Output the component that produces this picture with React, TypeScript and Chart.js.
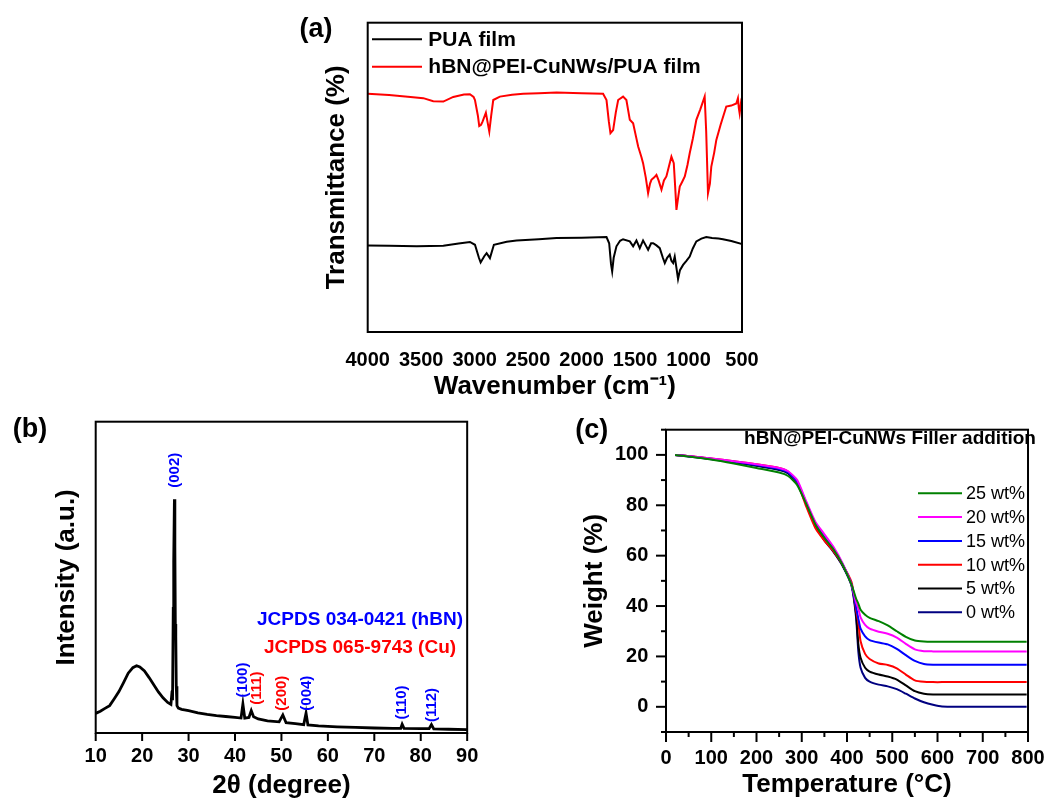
import React, { useEffect, useRef } from 'react';
import { Chart, registerables } from 'chart.js';

Chart.register(...registerables);

const FONT = "Arial, 'Liberation Sans', Helvetica, sans-serif";
Chart.defaults.font.family = FONT;

// ---------------- Panel (a): FTIR ----------------
const ftirTickValues = [500, 1000, 1500, 2000, 2500, 3000, 3500, 4000];
const ftirSeriesLabels = ['PUA film', 'hBN@PEI-CuNWs/PUA film'];

const puaWavenumber = [4000, 3800, 3542, 3293, 3150, 3044, 2997, 2960, 2944, 2910, 2888, 2857, 2820, 2700, 2608, 2400, 2234, 2000, 1767, 1742, 1725, 1714, 1700, 1674, 1640, 1612, 1549, 1518, 1487, 1456, 1425, 1400, 1378, 1350, 1331, 1300, 1269, 1240, 1222, 1200, 1176, 1160, 1144, 1129, 1110, 1098, 1080, 1051, 1020, 989, 960, 927, 880, 834, 780, 720, 678, 600, 507, 500];
const puaTransmittance = [28.0, 27.9, 27.7, 27.9, 28.6, 29.1, 28.2, 24.0, 22.5, 24.5, 25.5, 23.9, 28.2, 29.2, 29.6, 30.0, 30.4, 30.5, 30.7, 28.7, 22.0, 19.6, 24.0, 27.7, 29.5, 30.0, 29.3, 27.7, 29.6, 27.1, 29.6, 28.0, 26.6, 28.7, 28.7, 28.0, 27.1, 24.0, 22.3, 24.0, 25.0, 23.0, 22.3, 24.4, 20.0, 17.1, 20.0, 21.7, 23.0, 24.4, 27.0, 29.3, 30.2, 30.7, 30.4, 30.2, 30.0, 29.4, 28.5, 28.3];

const compWavenumber = [4000, 3800, 3600, 3480, 3387, 3293, 3200, 3100, 3044, 3010, 2997, 2970, 2957, 2940, 2926, 2895, 2880, 2863, 2845, 2826, 2764, 2650, 2546, 2400, 2234, 2000, 1799, 1767, 1745, 1730, 1705, 1680, 1658, 1612, 1581, 1549, 1518, 1490, 1471, 1440, 1425, 1400, 1378, 1360, 1347, 1320, 1300, 1280, 1253, 1230, 1207, 1180, 1160, 1138, 1125, 1113, 1095, 1082, 1060, 1035, 1010, 989, 960, 927, 890, 849, 835, 818, 800, 787, 760, 740, 700, 647, 600, 553, 538, 530, 522, 510, 500];
const compTransmittance = [77.0, 76.6, 76.0, 75.6, 74.6, 74.5, 76.0, 76.8, 76.9, 76.0, 75.0, 70.0, 66.6, 67.0, 68.0, 70.9, 68.0, 64.8, 70.0, 75.0, 76.1, 76.7, 77.0, 77.2, 77.4, 77.2, 77.0, 75.0, 68.0, 64.3, 65.3, 71.0, 75.0, 76.1, 75.0, 68.6, 67.5, 63.0, 60.0, 56.5, 54.6, 50.0, 44.9, 48.0, 49.2, 50.0, 50.8, 49.0, 46.0, 49.0, 50.3, 54.0, 56.7, 54.6, 47.0, 39.5, 44.0, 47.0, 48.5, 50.3, 54.0, 57.8, 62.5, 68.6, 72.0, 76.1, 65.0, 44.9, 48.0, 53.5, 58.0, 62.1, 67.0, 72.9, 73.2, 73.9, 75.6, 72.5, 70.7, 74.0, 72.5];

// ---------------- Panel (b): XRD ----------------
const xrdTickValues = [10, 20, 30, 40, 50, 60, 70, 80, 90];
const xrdAngle = [10, 11, 12, 13, 14, 15, 16, 17, 18, 18.8, 19.5, 20.5, 21.5, 22.5, 23.5, 24.5, 25.5, 26.2, 26.45, 26.55, 26.7, 26.8, 26.95, 27.05, 27.15, 27.25, 27.35, 27.5, 27.8, 28.5, 30, 32, 34, 36, 38, 40, 41.3, 41.7, 42.1, 43.0, 43.5, 44.0, 45, 47, 49.5, 50.3, 51.0, 53, 54.8, 55.3, 55.7, 58, 62, 66, 70, 74, 75.7, 76.0, 76.4, 80, 81.8, 82.3, 82.8, 86, 90];
const xrdIntensity = [6.3, 7.0, 7.9, 8.8, 11.0, 13.3, 16.2, 19.2, 21.0, 21.6, 21.2, 19.9, 17.8, 15.5, 13.2, 11.3, 9.8, 9.2, 13.5, 10.5, 40, 55, 75.1, 60, 35, 31, 15, 8.8, 8.0, 7.6, 7.2, 6.5, 6.0, 5.6, 5.3, 5.0, 4.8, 9.3, 4.8, 5.0, 7.2, 5.2, 4.5, 3.9, 3.6, 5.8, 3.3, 3.0, 2.7, 6.4, 2.6, 2.3, 2.0, 1.8, 1.6, 1.5, 1.5, 2.8, 1.5, 1.4, 1.4, 2.7, 1.3, 1.2, 1.1];
const peakNames = ['(002)', '(100)', '(111)', '(200)', '(004)', '(110)', '(112)'];
const peakAngles = [27.0, 41.7, 44.8, 50.1, 55.4, 75.9, 82.5];
const peakLabelLevels = [84.4, 17.0, 14.4, 12.8, 12.8, 9.8, 9.0];
const peakPhases = ['hBN', 'hBN', 'Cu', 'Cu', 'hBN', 'hBN', 'hBN'];
const jcpdsCards = ['JCPDS 034-0421 (hBN)', 'JCPDS 065-9743 (Cu)'];

// ---------------- Panel (c): TGA ----------------
const tgaTempTickValues = [0, 50, 100, 150, 200, 250, 300, 350, 400, 450, 500, 550, 600, 650, 700, 750, 800];
const tgaWeightTickValues = [-10, 0, 10, 20, 30, 40, 50, 60, 70, 80, 90, 100, 110];
const tgaTemp = [20, 50, 100, 150, 200, 250, 270, 290, 310, 330, 350, 370, 390, 410, 420, 425, 430, 440, 450, 470, 490, 510, 530, 550, 570, 590, 610, 650, 700, 797];
const tga25 = [100, 99.4, 98.2, 96.6, 94.8, 93.0, 91.6, 88.0, 80.5, 72.5, 67.0, 62.5, 56.5, 48.5, 43.0, 41.0, 38.5, 36.5, 35.3, 34.0, 32.3, 30.0, 27.8, 26.3, 25.9, 25.8, 25.8, 25.8, 25.8, 25.8];
const tga20 = [100, 99.6, 98.6, 97.5, 96.3, 94.8, 93.5, 90.0, 81.5, 73.5, 68.5, 63.5, 57.0, 48.5, 41.5, 39.0, 35.5, 32.5, 31.0, 29.8, 29.0, 27.5, 25.0, 22.8, 22.1, 22.0, 22.0, 22.0, 22.0, 22.0];
const tga15 = [100, 99.5, 98.5, 97.3, 96.0, 94.4, 93.0, 89.3, 81.0, 73.0, 67.5, 62.8, 56.8, 48.5, 39.5, 35.0, 31.0, 28.0, 26.5, 25.5, 24.8, 23.0, 20.5, 18.2, 17.0, 16.7, 16.7, 16.7, 16.7, 16.7];
const tga10 = [100, 99.6, 98.6, 97.5, 96.3, 94.8, 93.3, 89.0, 79.5, 71.0, 66.0, 61.8, 56.5, 49.5, 38.5, 33.5, 26.0, 21.0, 19.0, 17.2, 16.6, 15.3, 12.8, 10.5, 9.9, 9.8, 9.8, 9.8, 9.8, 9.8];
const tga5 = [100, 99.5, 98.4, 97.2, 95.8, 94.2, 92.8, 88.8, 80.5, 72.0, 66.2, 61.8, 56.3, 48.5, 37.0, 25.0, 19.5, 15.5, 14.0, 12.8, 12.0, 10.8, 8.5, 6.2, 5.2, 4.9, 4.9, 4.9, 4.9, 4.9];
const tga0 = [100, 99.4, 98.3, 97.1, 95.7, 94.0, 92.6, 88.5, 80.5, 72.0, 66.0, 61.5, 56.0, 48.0, 35.5, 22.0, 15.5, 11.5, 10.0, 8.8, 8.1, 7.0, 5.2, 3.3, 1.8, 0.8, 0.1, 0, 0, 0];
const tgaSeriesLabels = ['25 wt%', '20 wt%', '15 wt%', '10 wt%', '5 wt%', '0 wt%'];
const tgaTitle = 'hBN@PEI-CuNWs Filler addition';

// ---------------- helpers ----------------
const toPoints = (xs: number[], ys: number[]) => xs.map((x, i) => ({ x, y: ys[i] }));
const phaseColor: Record<string, string> = { hBN: '#0000ff', Cu: '#ff0000' };
const tgaColors = ['#008000', '#ff00ff', '#0000ff', '#ff0000', '#000000', '#000080'];

const tickFont = { size: 20, weight: 'bold' as const, family: FONT };
const titleFont = { size: 26, weight: 'bold' as const, family: FONT };

function seg(ctx: CanvasRenderingContext2D, x1: number, y1: number, x2: number, y2: number) {
  ctx.beginPath();
  ctx.moveTo(x1, y1);
  ctx.lineTo(x2, y2);
  ctx.stroke();
}

function drawFrame(chart: any) {
  const { ctx, chartArea: ca } = chart;
  ctx.save();
  ctx.strokeStyle = '#000';
  ctx.lineWidth = 2;
  ctx.strokeRect(ca.left, ca.top, ca.right - ca.left, ca.bottom - ca.top);
  ctx.restore();
}

function drawPanelLabel(chart: any, text: string, x: number, y: number) {
  const ctx = chart.ctx;
  ctx.save();
  ctx.fillStyle = '#000';
  ctx.font = `bold 27px ${FONT}`;
  ctx.textAlign = 'center';
  ctx.textBaseline = 'middle';
  ctx.fillText(text, x, y);
  ctx.restore();
}

function ftirConfig(): any {
  return {
    type: 'line',
    data: {
      datasets: [
        { label: ftirSeriesLabels[0], data: toPoints(puaWavenumber, puaTransmittance), borderColor: '#000000', borderWidth: 2, pointRadius: 0, tension: 0, fill: false },
        { label: ftirSeriesLabels[1], data: toPoints(compWavenumber, compTransmittance), borderColor: '#ff0000', borderWidth: 2, pointRadius: 0, tension: 0, fill: false },
      ],
    },
    options: {
      responsive: false,
      animation: false,
      events: [],
      layout: { padding: { left: 0, top: 22.7, right: 18, bottom: 0 } },
      plugins: { legend: { display: false }, tooltip: { enabled: false } },
      scales: {
        x: {
          type: 'linear', reverse: true, min: 500, max: 4000,
          afterBuildTicks: (s: any) => { s.ticks = ftirTickValues.map((v) => ({ value: v })); },
          afterFit: (s: any) => { s.height = 78; },
          ticks: { font: tickFont, color: '#000', padding: 16, maxRotation: 0, autoSkip: false, callback: (v: any) => String(v) },
          grid: { display: false, drawTicks: false },
          border: { display: false },
          title: { display: true, text: 'Wavenumber (cm⁻¹)', font: titleFont, color: '#000', padding: { top: 0, bottom: 7.4 } },
        },
        y: {
          type: 'linear', min: 0, max: 100,
          afterFit: (s: any) => { s.width = 87.7; },
          ticks: { display: false },
          grid: { display: false, drawTicks: false },
          border: { display: false },
          title: { display: true, text: 'Transmittance (%)', font: titleFont, color: '#000', padding: { top: 41, bottom: 0 } },
        },
      },
    },
    plugins: [{
      id: 'ftirDeco',
      afterDraw(chart: any) {
        drawFrame(chart);
        drawPanelLabel(chart, '(a)', 36, 30);
        const ctx = chart.ctx;
        ctx.save();
        ctx.font = `bold 21px ${FONT}`;
        ctx.textAlign = 'left';
        ctx.textBaseline = 'middle';
        chart.data.datasets.forEach((ds: any, i: number) => {
          const y = 39.3 + i * 27.4;
          ctx.strokeStyle = ds.borderColor;
          ctx.lineWidth = 2;
          seg(ctx, 92, y, 142, y);
          ctx.fillStyle = '#000';
          ctx.fillText(ds.label, 148.3, y + 1);
        });
        ctx.restore();
      },
    }],
  };
}

function xrdConfig(): any {
  return {
    type: 'line',
    data: {
      datasets: [
        { label: 'XRD', data: toPoints(xrdAngle, xrdIntensity), borderColor: '#000000', borderWidth: 2.8, pointRadius: 0, tension: 0, fill: false },
      ],
    },
    options: {
      responsive: false,
      animation: false,
      events: [],
      layout: { padding: { left: 0, top: 21.7, right: 20, bottom: 0 } },
      plugins: { legend: { display: false }, tooltip: { enabled: false } },
      scales: {
        x: {
          type: 'linear', min: 10, max: 90,
          afterBuildTicks: (s: any) => { s.ticks = xrdTickValues.map((v) => ({ value: v })); },
          afterFit: (s: any) => { s.height = 68; },
          ticks: { font: tickFont, color: '#000', padding: 11.7, maxRotation: 0, autoSkip: false, callback: (v: any) => String(v) },
          grid: { display: false, drawTicks: false },
          border: { display: false },
          title: { display: true, text: '2θ (degree)', font: titleFont, color: '#000', padding: { top: 0, bottom: 0 } },
        },
        y: {
          type: 'linear', min: 0, max: 100,
          afterFit: (s: any) => { s.width = 95.7; },
          ticks: { display: false },
          grid: { display: false, drawTicks: false },
          border: { display: false },
          title: { display: true, text: 'Intensity (a.u.)', font: titleFont, color: '#000', padding: { top: 51, bottom: 0 } },
        },
      },
    },
    plugins: [{
      id: 'xrdDeco',
      afterDraw(chart: any) {
        const { ctx, chartArea: ca, scales } = chart;
        drawFrame(chart);
        ctx.save();
        ctx.strokeStyle = '#000';
        ctx.lineWidth = 2;
        scales.x.ticks.forEach((t: any) => {
          const px = scales.x.getPixelForValue(t.value);
          seg(ctx, px, ca.bottom, px, ca.bottom + 8);
        });
        // peak labels
        ctx.font = `bold 15px ${FONT}`;
        ctx.textAlign = 'center';
        ctx.textBaseline = 'middle';
        peakNames.forEach((name, i) => {
          const px = scales.x.getPixelForValue(peakAngles[i]);
          const py = scales.y.getPixelForValue(peakLabelLevels[i]);
          ctx.save();
          ctx.translate(px, py);
          ctx.rotate(-Math.PI / 2);
          ctx.fillStyle = phaseColor[peakPhases[i]];
          ctx.fillText(name, 0, 0);
          ctx.restore();
        });
        ctx.font = `bold 19px ${FONT}`;
        ctx.fillStyle = phaseColor.hBN;
        ctx.fillText(jcpdsCards[0], 360, 220);
        ctx.fillStyle = phaseColor.Cu;
        ctx.fillText(jcpdsCards[1], 360, 247.3);
        ctx.restore();
        drawPanelLabel(chart, '(b)', 30, 30);
      },
    }],
  };
}

function tgaConfig(): any {
  const series = [tga25, tga20, tga15, tga10, tga5, tga0];
  return {
    type: 'line',
    data: {
      datasets: series.map((s, i) => ({
        label: tgaSeriesLabels[i], data: toPoints(tgaTemp, s), borderColor: tgaColors[i], borderWidth: 2, pointRadius: 0, tension: 0.2, fill: false,
      })),
    },
    options: {
      responsive: false,
      animation: false,
      events: [],
      layout: { padding: { left: 0, top: 21.7, right: 21, bottom: 0 } },
      plugins: { legend: { display: false }, tooltip: { enabled: false } },
      scales: {
        x: {
          type: 'linear', min: 0, max: 800,
          afterBuildTicks: (s: any) => { s.ticks = tgaTempTickValues.map((v) => ({ value: v })); },
          afterFit: (s: any) => { s.height = 69; },
          ticks: { font: tickFont, color: '#000', padding: 14.3, maxRotation: 0, autoSkip: false, callback: (v: any) => (v % 100 === 0 ? String(v) : '') },
          grid: { display: false, drawTicks: false },
          border: { display: false },
          title: { display: true, text: 'Temperature (°C)', font: titleFont, color: '#000', padding: { top: 0, bottom: 0.4 } },
        },
        y: {
          type: 'linear', min: -10, max: 110,
          afterBuildTicks: (s: any) => { s.ticks = tgaWeightTickValues.map((v) => ({ value: v })); },
          afterFit: (s: any) => { s.width = 106; },
          ticks: { font: tickFont, color: '#000', padding: 17.7, autoSkip: false, callback: (v: any) => (v % 20 === 0 && v >= 0 && v <= 100 ? String(v) : '') },
          grid: { display: false, drawTicks: false },
          border: { display: false },
          title: { display: true, text: 'Weight (%)', font: titleFont, color: '#000', padding: { top: 19.4, bottom: 0 } },
        },
      },
    },
    plugins: [{
      id: 'tgaDeco',
      afterDraw(chart: any) {
        const { ctx, chartArea: ca, scales } = chart;
        drawFrame(chart);
        ctx.save();
        ctx.strokeStyle = '#000';
        ctx.lineWidth = 2;
        scales.x.ticks.forEach((t: any) => {
          const px = scales.x.getPixelForValue(t.value);
          const len = t.value % 100 === 0 ? 10 : 5;
          seg(ctx, px, ca.bottom, px, ca.bottom + len);
        });
        scales.y.ticks.forEach((t: any) => {
          const py = scales.y.getPixelForValue(t.value);
          const len = t.value % 20 === 0 ? 10 : 5;
          seg(ctx, ca.left - len, py, ca.left, py);
        });
        ctx.fillStyle = '#000';
        ctx.font = `bold 19px ${FONT}`;
        ctx.textAlign = 'center';
        ctx.textBaseline = 'middle';
        ctx.fillText(tgaTitle, 330, 38.3);
        ctx.font = `18px ${FONT}`;
        ctx.textAlign = 'left';
        chart.data.datasets.forEach((ds: any, i: number) => {
          const y = 93.3 + i * 23.8;
          ctx.strokeStyle = ds.borderColor;
          ctx.lineWidth = 2;
          seg(ctx, 358, y, 402, y);
          ctx.fillStyle = '#000';
          ctx.fillText(ds.label, 406, y + 1);
        });
        ctx.restore();
        drawPanelLabel(chart, '(c)', 31.7, 31);
      },
    }],
  };
}

function Panel({ left, top, width, height, make }: { left: number; top: number; width: number; height: number; make: () => any }) {
  const ref = useRef<HTMLCanvasElement | null>(null);
  useEffect(() => {
    if (!ref.current) return;
    const chart = new Chart(ref.current, make());
    return () => chart.destroy();
  }, []);
  return (
    <canvas
      ref={ref}
      width={width}
      height={height}
      style={{ position: 'absolute', left, top, width, height, display: 'block' }}
    />
  );
}

export default function App() {
  return (
    <div style={{ position: 'absolute', left: 0, top: 0, width: 1059, height: 801, overflow: 'hidden', background: '#fff' }}>
      <Panel left={280} top={0} width={480} height={410} make={ftirConfig} />
      <Panel left={0} top={400} width={490} height={401} make={xrdConfig} />
      <Panel left={560} top={400} width={499} height={401} make={tgaConfig} />
    </div>
  );
}
